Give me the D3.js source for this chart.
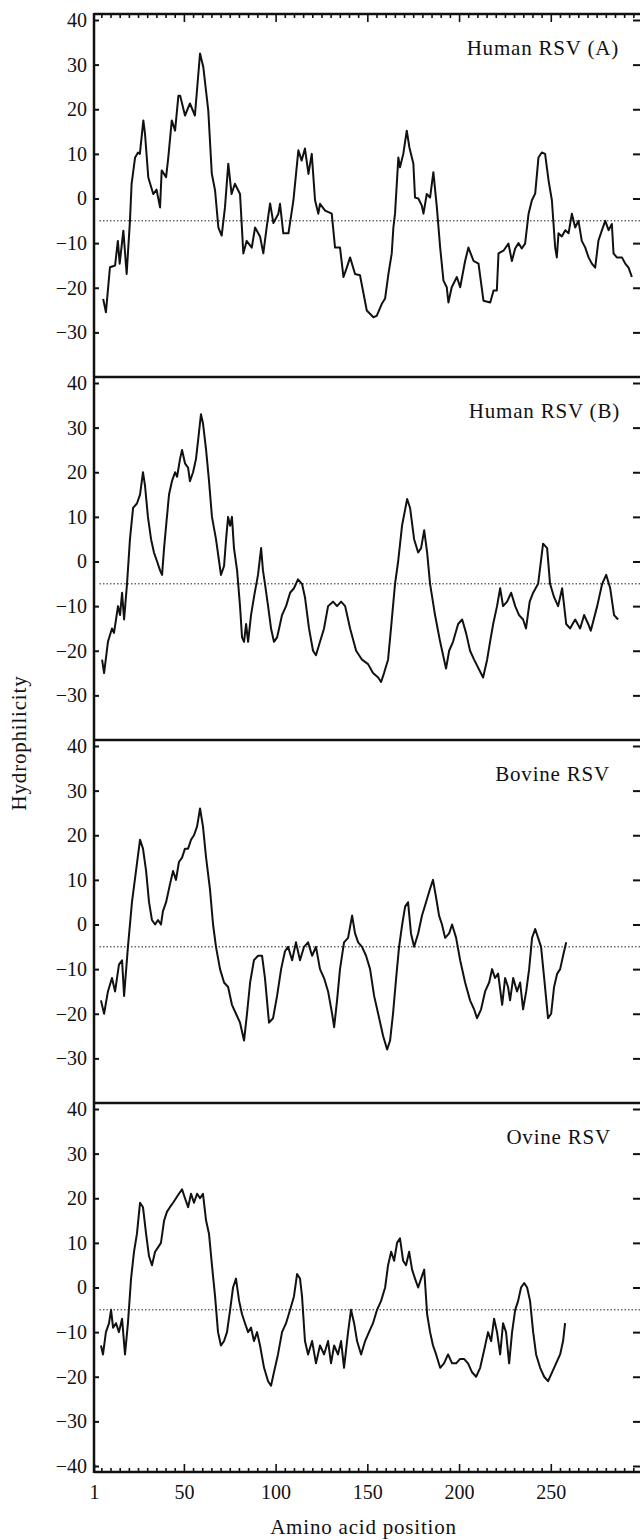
<!DOCTYPE html>
<html>
<head>
<meta charset="utf-8">
<script src="https://cdnjs.cloudflare.com/ajax/libs/d3/7.8.5/d3.min.js"></script>
<style>
body { margin: 0; background: #fff; }
svg text { font-family: "Liberation Serif", "Times New Roman", Times, serif; fill: #111; }
</style>
</head>
<body>
<div id="chart"></div>
<script>
// ---- data: [amino acid position, hydrophilicity] ----
var humanA = [[6,-22.5],[7.5,-25.5],[9.7,-15.4],[12.5,-15],[14,-9.5],[15,-14.6],[17,-7.2],[18.8,-16.9],[20.6,-5],[21.5,3.3],[23.4,9.2],[25,10.3],[26,10],[27.9,17.5],[28.8,14.5],[30.6,4.7],[33.3,1],[35.1,2],[37,-2],[37.9,6.3],[40.3,4.8],[41.5,9.2],[43.4,17.5],[45.2,15.2],[47,23],[48,23],[50.6,18.6],[53.3,21.3],[56,18.6],[58.8,32.5],[60.6,29.4],[63.3,19.7],[65.2,5.6],[67,1.8],[68.8,-6.5],[70.6,-8.3],[72.4,-2],[74.2,7.8],[76,1],[77.8,3.3],[80.6,1],[82.4,-12.3],[84.2,-9.5],[87,-11],[88.8,-6.5],[91.5,-8.5],[93.3,-12.3],[95.1,-6.5],[97,-1.1],[98.8,-5.5],[101.5,-3.4],[102.4,-1.2],[104.2,-7.8],[107,-7.8],[109.7,-0.4],[112.4,10.8],[114.2,8.5],[116,11.2],[117.9,5.5],[119.7,10],[121.5,-0.4],[123.3,-3.4],[124.2,-1.2],[127,-2.7],[130.6,-3.4],[132.4,-11],[135.1,-11],[137,-17.6],[138.8,-15.5],[140.6,-13.2],[143.3,-16.9],[146,-17.2],[149.7,-25.1],[153.3,-26.6],[155.1,-26.3],[157.9,-23.6],[159.7,-22.4],[161.5,-16.9],[163.3,-12.3],[164.2,-6.5],[165.1,-3.4],[166.9,9.2],[167.8,7],[169.6,10],[171.5,15.2],[172.9,11.5],[175.1,7.8],[176,0.2],[177.8,0],[179.7,-1.6],[180.6,-3.4],[182.4,1],[184.2,0.2],[186,5.9],[187.9,-2],[189.7,-11],[191.5,-18.4],[193.3,-19.9],[194.2,-23.3],[196,-19.9],[198.8,-17.6],[200.6,-19.9],[203.3,-14],[205.1,-11],[207.9,-14],[210.6,-14.6],[213.3,-22.9],[217,-23.3],[218.8,-20.6],[220.6,-20.6],[221.5,-12.3],[224.2,-11.7],[226.9,-10.1],[228.8,-14],[230.6,-11.2],[232.4,-10],[234.2,-11.2],[236,-10.1],[237.9,-3.4],[239.7,-0.4],[241.5,1.1],[243.3,9.2],[245.1,10.3],[246.9,10],[248.8,4],[250.6,-0.4],[252.4,-11],[253.3,-13.2],[254.2,-7.8],[256,-8.5],[257.9,-7.1],[259.7,-7.8],[261.5,-3.4],[263.3,-6.5],[265.1,-5],[266.9,-9.5],[268.8,-11],[270.6,-13.2],[272.4,-14.6],[274.2,-15.5],[276,-9.4],[277.9,-7.1],[279.7,-5],[281.5,-7.1],[283.3,-5.7],[284.2,-12.3],[286,-13.2],[288.8,-13.2],[290.6,-14.6],[292.4,-15.5],[294.2,-17.6]];

var humanB = [[5.4,-22],[6.5,-25],[8.6,-18],[10.8,-15],[11.9,-16],[14.1,-10],[15.2,-12],[16.3,-7],[17.4,-13],[19,-5],[20.6,5],[22.3,12],[24.4,13],[26.1,15],[27.7,20],[28.8,17],[30.4,10],[32.1,5],[33.7,2],[35.4,0],[37,-2],[38.1,-3],[39.2,3],[40.3,8],[41.9,15],[43.5,18],[45.2,20],[46.3,19],[47.9,23],[49,25],[50.6,22],[52.3,21],[53.3,18],[55,20],[56.6,23],[57.7,27],[59.3,33],[60.4,31],[62.1,25],[63.7,18],[65.3,10],[67.5,5],[69.2,0],[70.2,-3],[71.9,-1],[73,5],[74.1,10],[75.2,8],[76.2,10],[77.3,3],[79,-2],[80.6,-10],[81.7,-17],[82.8,-18],[83.9,-14],[85,-18],[86.6,-12],[88.2,-8],[90.4,-3],[92.1,3],[93.1,-2],[94.2,-5],[95.9,-10],[97.5,-15],[99.1,-18],[100.8,-17],[101.9,-15],[103.5,-12],[105.7,-10],[107.9,-7],[110,-6],[112.2,-4],[114.4,-5],[116,-8],[118.2,-15],[120.4,-20],[122,-21],[124.2,-18],[126.4,-15],[128.6,-10],[131.3,-9],[133.5,-10],[135.7,-9],[137.9,-10],[140.6,-15],[143.9,-20],[147.1,-22],[150.4,-23],[153.1,-25],[155.9,-26],[157.5,-27],[159.1,-25],[161.3,-22],[162.9,-15],[165.1,-5],[166.8,0],[168.9,8],[171.7,14],[173.3,12],[175.5,5],[177.7,2],[179.3,3],[181,7],[182.6,2],[184.2,-5],[186.9,-12],[189.7,-18],[192.9,-24],[194.6,-20],[196.7,-18],[199.5,-14],[201.7,-13],[203.8,-16],[206,-20],[208.2,-22],[213.1,-26],[215.3,-22],[216.9,-18],[218.6,-14],[220.7,-10],[222.4,-6],[224,-10],[226.2,-9],[228.4,-7],[230.6,-10],[232.7,-12],[234.9,-13],[236.5,-15],[238.5,-9],[240.4,-7],[243.1,-5],[245.8,4],[248,3],[249.6,-5],[251.8,-8],[254,-10],[256.2,-6],[258.4,-14],[260.5,-15],[263.3,-13],[266,-15],[268.2,-12],[270.4,-14],[271.8,-15.5],[275.3,-10],[278,-5],[280.2,-3],[282.4,-6],[284.5,-12],[286.7,-13]];

var bovine = [[4.8,-17],[6.5,-20],[8.6,-15],[10.8,-12],[12.5,-15],[14.6,-9],[16.3,-8],[17.4,-16],[19.5,-5],[21.7,5],[23.9,12],[26.1,19],[27.7,17],[29.4,12],[31,5],[32.6,1],[34.3,0],[35.9,1],[37.5,0],[38.6,3],[40.3,5],[42.4,9],[44.1,12],[45.7,10],[47.3,14],[49,15],[50.6,17],[52.3,17],[53.9,19],[55.5,20],[57.2,22],[58.8,26],[60.4,22],[62.1,15],[64.2,8],[65.9,0],[67.5,-5],[69.7,-10],[71.9,-13],[74.1,-14],[76.2,-18],[78.4,-20],[80.6,-22],[82.8,-26],[84.4,-20],[86.1,-13],[88.2,-8],[90.4,-7],[92.6,-7],[94.2,-12],[96.4,-22],[98.6,-21],[100.8,-16],[103,-10],[105.1,-6],[106.8,-5],[109,-8],[111.1,-4],[113.3,-8],[115.5,-5],[117.7,-4],[119.9,-7],[122,-5],[124.2,-10],[126.4,-12],[128.6,-15],[130.8,-20],[131.9,-23],[133.5,-17],[135.1,-10],[137.3,-4],[139.5,-3],[141.7,2],[143.3,-2],[145,-4],[147.1,-5],[149.3,-7],[151.5,-10],[153.7,-16],[155.9,-20],[158.6,-25],[160.8,-28],[162.4,-26],[164,-20],[165.7,-12],[167.3,-5],[169,0],[170.6,4],[172.2,5],[173.8,-2],[175.5,-5],[177.7,-2],[179.8,2],[182,5],[184.2,8],[185.8,10],[187.5,6],[189.1,2],[190.7,0],[192.4,-3],[194.6,-2],[196.2,0],[198.4,-3],[200.6,-8],[203.3,-13],[206,-17],[208.2,-19],[209.8,-21],[212,-19],[214.2,-15],[216.4,-13],[218,-10],[219.6,-12],[221.3,-11],[223.5,-18],[225.1,-12],[226.7,-14],[227.8,-17],[229.5,-12],[231.6,-15],[233.3,-13],[234.9,-19],[236.6,-15],[238.2,-10],[239.8,-3],[241.5,-1],[243.1,-3],[244.7,-5],[246.4,-12],[248.5,-21],[250.2,-20],[251.8,-14],[253.5,-11],[255.1,-10],[256.7,-7],[258.4,-4]];

var ovine = [[4.8,-13],[5.9,-15],[7.5,-10],[9.2,-8],[10.3,-5],[11.4,-9],[13,-8],[14.6,-10],[16.3,-7],[17.9,-15],[19.5,-8],[21.2,2],[22.8,8],[24.4,12],[26.1,19],[27.7,18],[29.4,12],[31,7],[32.6,5],[34.3,8],[35.9,9],[37.5,10],[39.2,15],[40.8,17],[42.4,18],[44.1,19],[45.7,20],[47.3,21],[49,22],[50.6,20],[52.3,18],[53.9,21],[55.5,19],[57.2,21],[58.8,20],[60.4,21],[62.1,15],[63.7,12],[65.3,5],[67,-2],[68.6,-10],[70.2,-13],[71.9,-12],[73.5,-10],[75.2,-5],[76.8,0],[78.4,2],[80.1,-3],[81.7,-6],[83.3,-8],[85,-10],[86.6,-9],[88.2,-12],[89.9,-10],[91.5,-13],[93.7,-18],[95.9,-21],[97.5,-22],[99.1,-19],[101.3,-15],[103.5,-10],[105.7,-8],[107.9,-5],[110,-2],[111.7,3],[113.3,2],[114.4,-2],[116,-12],[117.7,-15],[119.9,-12],[122,-17],[124.2,-13],[126.4,-15],[128.6,-12],[130.2,-17],[131.9,-13],[134,-15],[135.7,-12],[137.3,-18],[139.5,-10],[141.1,-5],[142.8,-8],[144.4,-12],[146.6,-15],[148.8,-12],[150.9,-10],[153.1,-8],[155.3,-5],[157.5,-3],[159.7,0],[161.3,5],[163,8],[164.6,6],[166.2,10],[167.8,11],[169.5,6],[171.1,5],[172.8,8],[174.4,4],[176,2],[177.7,0],[179.3,2],[181,4],[182.6,-6],[184.2,-10],[185.8,-13],[187.5,-15],[189.7,-18],[191.8,-17],[194,-15],[196.2,-17],[198.4,-17],[200.6,-16],[202.7,-16],[204.9,-17],[207.1,-19],[209.3,-20],[211.5,-18],[213.7,-14],[215.8,-10],[217.5,-12],[219.1,-7],[220.7,-10],[222.4,-15],[224,-8],[225.6,-10],[227.3,-17],[228.9,-10],[230.6,-5],[232.2,-3],[233.8,0],[235.5,1],[237.1,0],[238.7,-3],[240.4,-10],[242,-15],[244.2,-18],[246.4,-20],[248.5,-21],[250.7,-19],[252.9,-17],[255.1,-15],[256.7,-12],[257.8,-8]];

var series = [humanA, humanB, bovine, ovine];
var panelNames = ["Human RSV (A)", "Human RSV (B)", "Bovine RSV", "Ovine RSV"];
var yTicks = [40, 30, 20, 10, 0, -10, -20, -30];
var xTicks = [1, 50, 100, 150, 200, 250];
var cutoff = -5;

// ---- layout ----
var width = 640, height = 1540;
var left = 94, right = 640;
var firstTop = 20, step = 363, panelH = 357;
var titleRight = [619, 620, 610, 611];
var serif = "'Liberation Serif', 'Times New Roman', Times, serif";

var svg = d3.select("#chart").append("svg")
    .attr("width", width)
    .attr("height", height);

var x = d3.scaleLinear().domain([1, 297]).range([left, 637]);

var line = d3.line()
    .x(function (d) { return x(d[0]); });

var lastBottom = 0;

series.forEach(function (data, i) {
    var top = firstTop + i * step;
    var y = d3.scaleLinear().domain([-40, 40]).range([top + panelH, top]);
    var ticks = (i == 3) ? yTicks.concat([-40]) : yTicks;
    lastBottom = top + panelH;

    var g = svg.append("g");

    // left ticks + labels
    g.append("g")
        .attr("transform", "translate(" + left + ",0)")
        .call(d3.axisLeft(y).tickValues(ticks).tickSizeInner(-5).tickSizeOuter(0).tickPadding(7))
        .call(function (a) {
            a.attr("font-family", serif);
            a.select(".domain").remove();
            a.selectAll("line").attr("stroke", "#111").attr("stroke-width", 2);
            a.selectAll("text").attr("font-size", 20).attr("fill", "#111")
                .style("font-family", serif);
        });

    // right ticks
    g.append("g")
        .attr("transform", "translate(" + right + ",0)")
        .call(d3.axisRight(y).tickValues(ticks).tickSizeInner(-7).tickSizeOuter(0).tickFormat(""))
        .call(function (a) {
            a.select(".domain").remove();
            a.selectAll("line").attr("stroke", "#111").attr("stroke-width", 2);
        });

    // dotted cutoff line
    g.append("line")
        .attr("x1", x(4)).attr("x2", right)
        .attr("y1", y(cutoff)).attr("y2", y(cutoff))
        .attr("stroke", "#222").attr("stroke-width", 1)
        .attr("stroke-dasharray", "1.5,2");

    // hydrophilicity trace
    g.append("path")
        .datum(data)
        .attr("fill", "none")
        .attr("stroke", "#111")
        .attr("stroke-width", 2)
        .attr("stroke-linejoin", "round")
        .attr("d", line.y(function (d) { return y(d[1]); }));

    g.append("text")
        .attr("x", titleRight[i])
        .attr("y", y(32.2))
        .attr("text-anchor", "end")
        .attr("font-size", 21)
        .attr("letter-spacing", 0.8)
        .style("font-family", serif)
        .text(panelNames[i]);

    // separator between panels
    if (i < 3) {
        g.append("line")
            .attr("x1", left).attr("x2", right)
            .attr("y1", top + panelH).attr("y2", top + panelH)
            .attr("stroke", "#111").attr("stroke-width", 2.5);
    }
});

var topY = firstTop - 6;
var bottomY = lastBottom + 6;
var minor = d3.range(5, 296, 5).filter(function (v) { return v % 50 != 0; });

function styleX(a) {
    a.select(".domain").remove();
    a.selectAll("line").attr("stroke", "#111").attr("stroke-width", 1.6);
}

// top border with ticks
svg.append("g").attr("transform", "translate(0," + topY + ")")
    .call(d3.axisTop(x).tickValues(minor).tickSizeInner(-4).tickSizeOuter(0).tickFormat(""))
    .call(styleX);
svg.append("g").attr("transform", "translate(0," + topY + ")")
    .call(d3.axisTop(x).tickValues(xTicks.slice(1)).tickSizeInner(-8).tickSizeOuter(0).tickFormat(""))
    .call(styleX);
svg.append("line")
    .attr("x1", left).attr("x2", right).attr("y1", topY).attr("y2", topY)
    .attr("stroke", "#111").attr("stroke-width", 2.5);

// bottom axis
svg.append("g").attr("transform", "translate(0," + bottomY + ")")
    .call(d3.axisBottom(x).tickValues(minor).tickSizeInner(-4).tickSizeOuter(0).tickFormat(""))
    .call(styleX);
svg.append("g").attr("transform", "translate(0," + bottomY + ")")
    .call(d3.axisBottom(x).tickValues(xTicks).tickSizeInner(-8).tickSizeOuter(0).tickPadding(13))
    .call(styleX)
    .call(function (a) {
        a.attr("font-family", serif);
        a.selectAll("text").attr("font-size", 20).attr("fill", "#111")
            .style("font-family", serif);
    });
svg.append("line")
    .attr("x1", left).attr("x2", right).attr("y1", bottomY).attr("y2", bottomY)
    .attr("stroke", "#111").attr("stroke-width", 2.5);

// left axis line
svg.append("line")
    .attr("x1", left).attr("x2", left).attr("y1", topY - 1).attr("y2", bottomY + 1)
    .attr("stroke", "#111").attr("stroke-width", 2.5);

// axis titles
svg.append("text")
    .attr("transform", "translate(26," + ((topY + bottomY) / 2) + ") rotate(-90)")
    .attr("text-anchor", "middle")
    .attr("font-size", 21)
    .attr("letter-spacing", 0.8)
    .style("font-family", serif)
    .text("Hydrophilicity");

svg.append("text")
    .attr("x", (x(1) + x(297)) / 2 - 2)
    .attr("y", bottomY + 62)
    .attr("text-anchor", "middle")
    .attr("font-size", 21)
    .attr("letter-spacing", 0.8)
    .style("font-family", serif)
    .text("Amino acid position");
</script>
</body>
</html>
